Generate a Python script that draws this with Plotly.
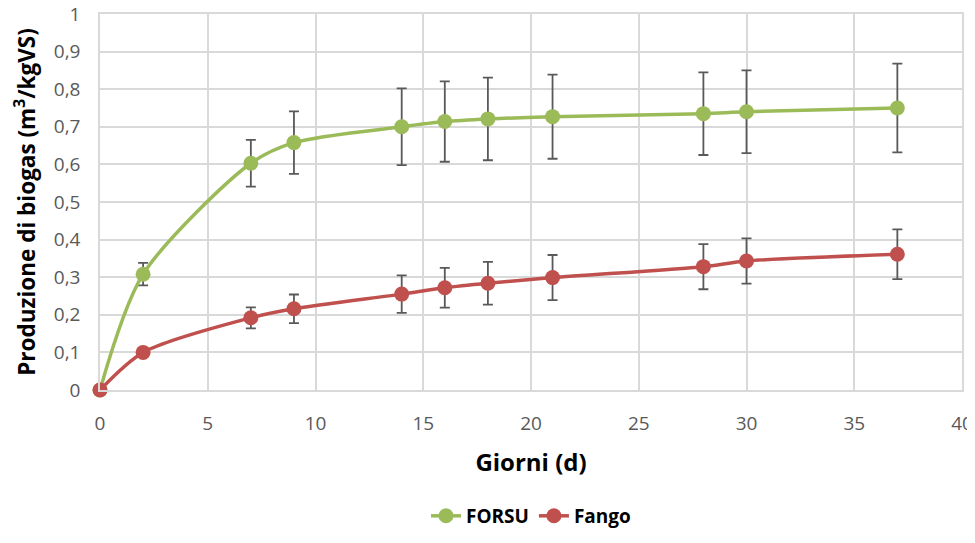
import plotly.graph_objects as go

giorni = [0, 2, 7, 9, 14, 16, 18, 21, 28, 30, 37]
forsu = [0, 0.308, 0.603, 0.658, 0.700, 0.714, 0.721, 0.727, 0.735, 0.740, 0.750]
forsu_err = [0, 0.030, 0.062, 0.083, 0.102, 0.107, 0.110, 0.112, 0.110, 0.110, 0.118]
fango = [0, 0.100, 0.192, 0.216, 0.255, 0.272, 0.284, 0.299, 0.328, 0.343, 0.361]
fango_err = [0, 0.004, 0.028, 0.038, 0.050, 0.053, 0.057, 0.060, 0.060, 0.060, 0.066]

green = "#9BBB59"
red = "#C0504D"
errc = "#595959"

fig = go.Figure()
fig.add_trace(go.Scatter(
    x=giorni, y=forsu, name="<b>FORSU</b>", mode="lines+markers",
    line=dict(color=green, width=3.5, shape="spline", smoothing=0.8),
    marker=dict(color=green, size=15), cliponaxis=False,
    error_y=dict(type="data", array=forsu_err, color=errc, thickness=1.8, width=5),
))
fig.add_trace(go.Scatter(
    x=giorni, y=fango, name="<b>Fango</b>", mode="lines+markers",
    line=dict(color=red, width=3.5, shape="spline", smoothing=0.8),
    marker=dict(color=red, size=15), cliponaxis=False,
    error_y=dict(type="data", array=fango_err, color=errc, thickness=1.8, width=5),
))

# page has an 8px body margin; figure size and margins offset to compensate
fig.update_layout(
    width=967, height=522,
    margin=dict(l=92, r=13, t=6, b=140, autoexpand=False),
    paper_bgcolor="white", plot_bgcolor="white",
    separators=",.",
    font=dict(family="Open Sans, Liberation Sans, sans-serif", color=errc, size=19),
    showlegend=True,
    legend=dict(orientation="h", x=0.5, xanchor="center", y=-0.335, yanchor="middle",
                font=dict(size=19, color="black", family="Open Sans, sans-serif"),
                traceorder="normal"),
)
fig.update_xaxes(
    range=[0, 40], dtick=5, tick0=0, showgrid=True, gridcolor="#D9D9D9", gridwidth=1.5,
    zeroline=False, showline=True, linecolor="#D9D9D9", linewidth=1.5, mirror=True,
    ticks="", tickfont=dict(size=19, color=errc), automargin=False, ticklabelstandoff=15,
    ticklabeloverflow="allow",
    title=dict(text="<b>Giorni (d)</b>", font=dict(size=24, color="black"), standoff=20),
)
fig.update_yaxes(
    range=[0, 1], dtick=0.1, tick0=0, showgrid=True, gridcolor="#D9D9D9", gridwidth=1.5,
    zeroline=False, showline=True, linecolor="#D9D9D9", linewidth=1.5, mirror=True,
    ticks="", tickfont=dict(size=19, color=errc), automargin=False, ticklabelstandoff=14,
    ticklabeloverflow="allow",
    title=dict(text="<b>Produzione di biogas (m<sup>3</sup>/kgVS)</b>", font=dict(size=22.5, color="black"), standoff=12),
)

fig.write_html("out.html")
